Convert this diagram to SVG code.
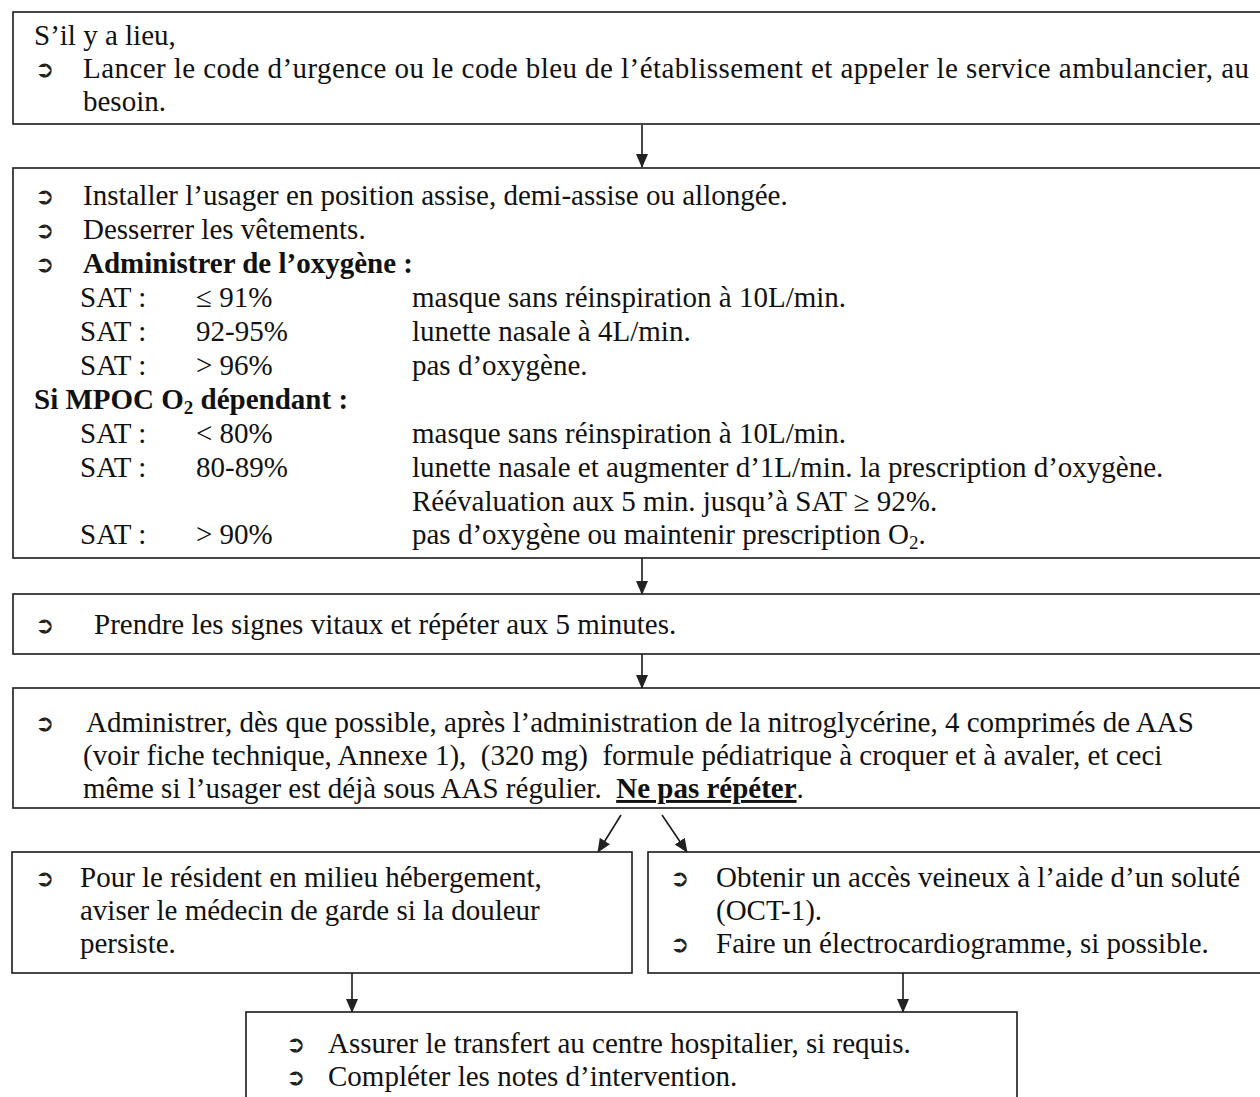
<svg xmlns="http://www.w3.org/2000/svg" width="1260" height="1097" viewBox="0 0 1260 1097">
<style>
.box{fill:#fff;stroke:#1a1a1a;stroke-width:1.6}
.t{font-family:"Liberation Serif","Times New Roman",serif;font-size:29px;fill:#111;white-space:pre}
.b{font-weight:bold}
.bul{font-family:"DejaVu Sans",sans-serif;font-size:23px;font-weight:bold;fill:#222}
.c{stroke:#1a1a1a;stroke-width:1.6;fill:none}
</style>
<defs>
<marker id="ah" markerUnits="userSpaceOnUse" viewBox="0 0 14 14" markerWidth="14" markerHeight="14" refX="13" refY="7" orient="auto">
<path d="M0,1 L14,7 L0,13 Z" fill="#222"/>
</marker>
</defs>
<rect width="1260" height="1097" fill="#fff"/>

<g id="connectors">
<line class="c" x1="642" y1="125" x2="642" y2="167" marker-end="url(#ah)"/>
<line class="c" x1="642" y1="558" x2="642" y2="594" marker-end="url(#ah)"/>
<line class="c" x1="642" y1="654" x2="642" y2="688" marker-end="url(#ah)"/>
<line class="c" x1="621" y1="815" x2="598" y2="852" marker-end="url(#ah)"/>
<line class="c" x1="662" y1="815" x2="687" y2="852" marker-end="url(#ah)"/>
<line class="c" x1="352" y1="973" x2="352" y2="1012" marker-end="url(#ah)"/>
<line class="c" x1="903" y1="973" x2="903" y2="1012" marker-end="url(#ah)"/>
</g>

<g id="node-urgence">
<rect class="box" x="13" y="12" width="1260" height="112"/>
<text class="t" x="34" y="45">S’il y a lieu,</text>
<text class="bul" x="35" y="77">➲</text>
<text class="t" x="83" y="78" textLength="1166" lengthAdjust="spacing">Lancer le code d’urgence ou le code bleu de l’établissement et appeler le service ambulancier, au</text>
<text class="t" x="83" y="111">besoin.</text>
</g>

<g id="node-oxygene">
<rect class="box" x="13" y="168" width="1260" height="390"/>
<text class="bul" x="35" y="204">➲</text>
<text class="t" x="83" y="205">Installer l’usager en position assise, demi-assise ou allongée.</text>
<text class="bul" x="35" y="238">➲</text>
<text class="t" x="83" y="239">Desserrer les vêtements.</text>
<text class="bul" x="35" y="272">➲</text>
<text class="t b" x="83" y="273">Administrer de l’oxygène :</text>
<text class="t" x="80" y="307">SAT :</text><text class="t" x="196" y="307">≤ 91%</text><text class="t" x="412" y="307">masque sans réinspiration à 10L/min.</text>
<text class="t" x="80" y="341">SAT :</text><text class="t" x="196" y="341">92-95%</text><text class="t" x="412" y="341">lunette nasale à 4L/min.</text>
<text class="t" x="80" y="375">SAT :</text><text class="t" x="196" y="375">&gt; 96%</text><text class="t" x="412" y="375">pas d’oxygène.</text>
<text class="t b" x="34" y="409">Si MPOC O<tspan font-size="19" dy="5">2</tspan><tspan dy="-5"> dépendant :</tspan></text>
<text class="t" x="80" y="443">SAT :</text><text class="t" x="196" y="443">&lt; 80%</text><text class="t" x="412" y="443">masque sans réinspiration à 10L/min.</text>
<text class="t" x="80" y="477">SAT :</text><text class="t" x="196" y="477">80-89%</text><text class="t" x="412" y="477">lunette nasale et augmenter d’1L/min. la prescription d’oxygène.</text>
<text class="t" x="412" y="511">Réévaluation aux 5 min. jusqu’à SAT ≥ 92%.</text>
<text class="t" x="80" y="544">SAT :</text><text class="t" x="196" y="544">&gt; 90%</text><text class="t" x="412" y="544">pas d’oxygène ou maintenir prescription O<tspan font-size="19" dy="5">2</tspan><tspan dy="-5">.</tspan></text>
</g>

<g id="node-signes">
<rect class="box" x="13" y="594" width="1260" height="60"/>
<text class="bul" x="35" y="633">➲</text>
<text class="t" x="94" y="634">Prendre les signes vitaux et répéter aux 5 minutes.</text>
</g>

<g id="node-aas">
<rect class="box" x="13" y="688" width="1260" height="120"/>
<text class="bul" x="35" y="731">➲</text>
<text class="t" x="86" y="732">Administrer, dès que possible, après l’administration de la nitroglycérine, 4 comprimés de AAS</text>
<text class="t" x="83" y="765">(voir fiche technique, Annexe 1),  (320 mg)  formule pédiatrique à croquer et à avaler, et ceci</text>
<text class="t" x="83" y="798">même si l’usager est déjà sous AAS régulier.  <tspan class="b" text-decoration="underline">Ne pas répéter</tspan>.</text>
</g>

<g id="node-resident">
<rect class="box" x="12" y="852" width="620" height="121"/>
<text class="bul" x="35" y="886">➲</text>
<text class="t" x="80" y="887">Pour le résident en milieu hébergement,</text>
<text class="t" x="80" y="920">aviser le médecin de garde si la douleur</text>
<text class="t" x="80" y="953">persiste.</text>
</g>

<g id="node-acces">
<rect class="box" x="648" y="852" width="630" height="121"/>
<text class="bul" x="670" y="886">➲</text>
<text class="t" x="716" y="887">Obtenir un accès veineux à l’aide d’un soluté</text>
<text class="t" x="716" y="920">(OCT-1).</text>
<text class="bul" x="670" y="952">➲</text>
<text class="t" x="716" y="953">Faire un électrocardiogramme, si possible.</text>
</g>

<g id="node-transfert">
<rect class="box" x="246" y="1012" width="771" height="100"/>
<text class="bul" x="286" y="1052">➲</text>
<text class="t" x="328" y="1053">Assurer le transfert au centre hospitalier, si requis.</text>
<text class="bul" x="286" y="1085">➲</text>
<text class="t" x="328" y="1086">Compléter les notes d’intervention.</text>
</g>
</svg>
